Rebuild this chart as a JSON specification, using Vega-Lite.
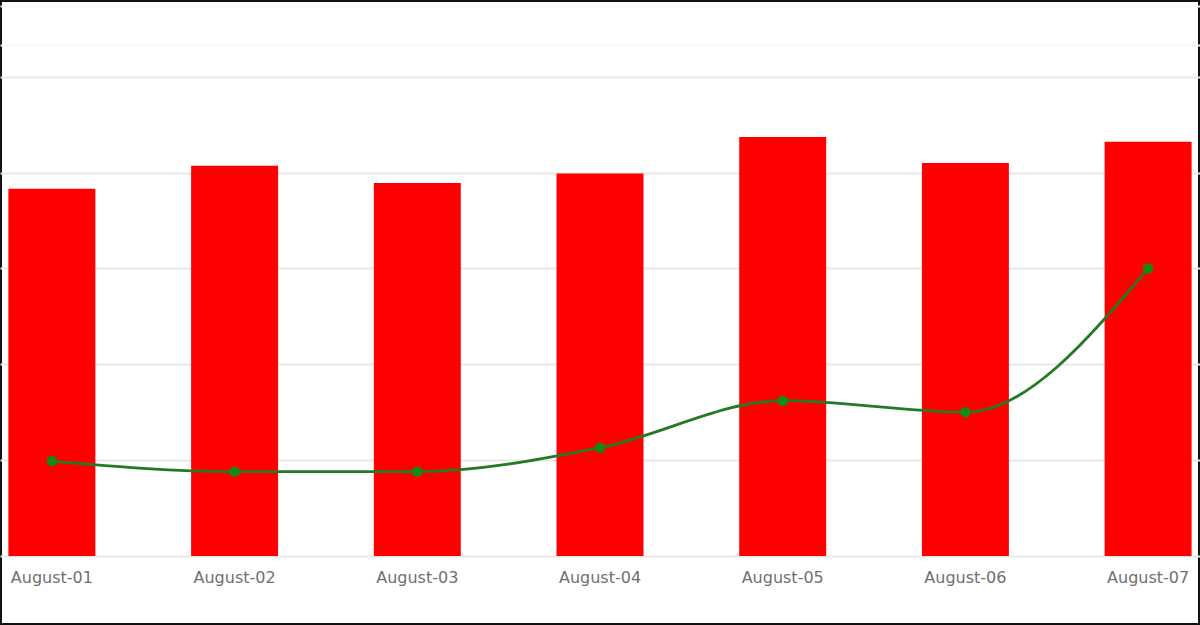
{
  "$schema": "https://vega.github.io/schema/vega-lite/v6.json",
  "width": 1200,
  "height": 625,
  "autosize": {"type": "none"},
  "padding": 0,
  "background": "white",
  "config": {
    "view": {"stroke": "#111111", "strokeWidth": 4},
    "axis": {"labelFont": "DejaVu Sans", "labelColor": "#707070", "labelFontSize": 16}
  },
  "data": {
    "values": [
      {"day": "August-01", "bar": 3.83, "line": 0.99},
      {"day": "August-02", "bar": 4.07, "line": 0.88},
      {"day": "August-03", "bar": 3.89, "line": 0.88},
      {"day": "August-04", "bar": 3.99, "line": 1.13},
      {"day": "August-05", "bar": 4.37, "line": 1.62},
      {"day": "August-06", "bar": 4.10, "line": 1.50},
      {"day": "August-07", "bar": 4.32, "line": 3.00}
    ]
  },
  "encoding": {
    "x": {
      "field": "day",
      "type": "nominal",
      "sort": null,
      "title": null,
      "scale": {"paddingInner": 0.524, "paddingOuter": 0.046},
      "axis": {
        "orient": "bottom",
        "offset": -69,
        "domain": false,
        "ticks": false,
        "labelAngle": 0,
        "labelPadding": 13,
        "grid": false
      }
    }
  },
  "layer": [
    {
      "mark": {"type": "bar", "color": "#ff0000"},
      "encoding": {
        "y": {
          "field": "bar",
          "type": "quantitative",
          "title": null,
          "scale": {"domain": [-0.72, 5.8], "nice": false, "zero": false},
          "axis": {
            "values": [0, 1, 2, 3, 4, 5, 5.33, 5.74],
            "labels": false,
            "ticks": false,
            "domain": false,
            "gridColor": {"condition": {"test": "datum.value > 5.1", "value": "#f7f7f7"}, "value": "#e8e8e8"},
            "gridWidth": 2
          }
        },
        "y2": {"datum": 0}
      }
    },
    {
      "mark": {"type": "line", "color": "#237a23", "strokeWidth": 2.8, "interpolate": "monotone"},
      "encoding": {"y": {"field": "line", "type": "quantitative"}}
    },
    {
      "mark": {"type": "point", "filled": true, "color": "#138a13", "opacity": 1, "size": 110},
      "encoding": {"y": {"field": "line", "type": "quantitative"}}
    }
  ]
}
